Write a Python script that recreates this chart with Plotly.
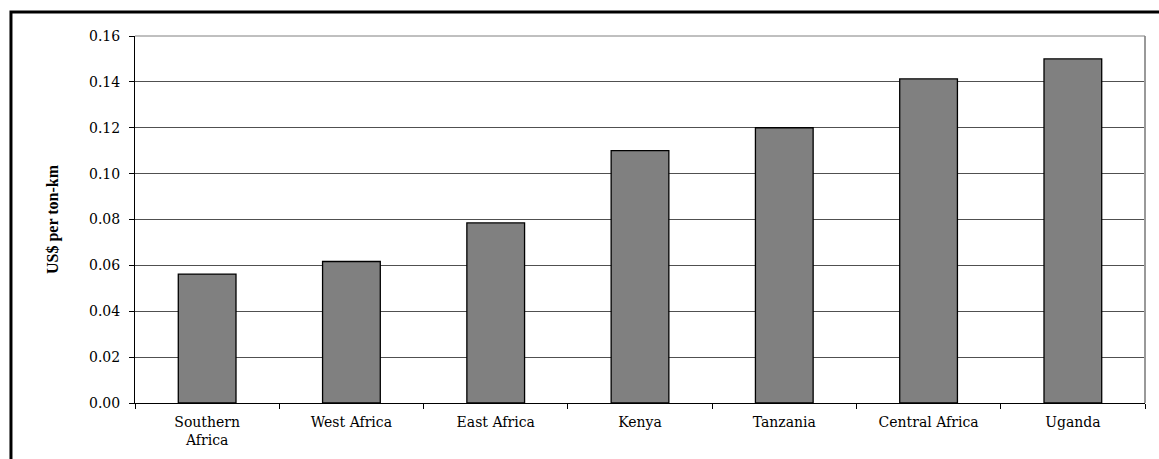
import plotly.graph_objects as go

# Road freight transport cost by region / country
regions = ["Southern<br>Africa", "West Africa", "East Africa", "Kenya",
           "Tanzania", "Central Africa", "Uganda"]
cost_per_ton_km = [0.0562, 0.0617, 0.0785, 0.110, 0.120, 0.1413, 0.150]
y_ticks = [0.00, 0.02, 0.04, 0.06, 0.08, 0.10, 0.12, 0.14, 0.16]

fig = go.Figure(
    go.Bar(
        x=regions,
        y=cost_per_ton_km,
        marker=dict(color="#808080", line=dict(color="#000000", width=1.3)),
        width=0.4,
    )
)

tick_font = dict(family="DejaVu Serif", size=14, color="#000000")

fig.update_layout(
    width=1159,
    height=459,
    margin=dict(l=135, r=14, t=36, b=56),
    paper_bgcolor="#ffffff",
    plot_bgcolor="#ffffff",
    showlegend=False,
    xaxis=dict(
        type="category",
        tickfont=tick_font,
        showgrid=False,
        showline=True,
        linecolor="#000000",
        linewidth=1,
        ticks="outside",
        tickson="boundaries",
        ticklen=5,
        tickcolor="#000000",
        ticklabelstandoff=6,
    ),
    yaxis=dict(
        range=[0, 0.16],
        tickvals=y_ticks,
        ticktext=[f"{v:.2f}" for v in y_ticks],
        tickfont=tick_font,
        showgrid=True,
        gridcolor="#505050",
        gridwidth=1,
        zeroline=False,
        showline=True,
        linecolor="#000000",
        linewidth=1,
        ticks="outside",
        ticklen=5,
        tickcolor="#000000",
        ticklabelstandoff=6,
        title=dict(
            text="<b>US$ per ton-km</b>",
            font=dict(family="Liberation Serif", size=16, color="#000000"),
            standoff=26,
        ),
    ),
    shapes=[
        # plot area border on the right
        dict(type="line", xref="paper", yref="paper", x0=1, x1=1, y0=0, y1=1,
             line=dict(color="#999999", width=2)),
        dict(type="line", xref="paper", yref="paper", x0=0, x1=1, y0=1, y1=1,
             line=dict(color="#808080", width=1)),
        # outer chart frame
        dict(type="rect", xref="paper", yref="paper",
             x0=-0.1228, x1=1.2, y0=-0.4, y1=1.0654,
             line=dict(color="#000000", width=3), layer="above"),
    ],
)

fig.write_html("out.html")
